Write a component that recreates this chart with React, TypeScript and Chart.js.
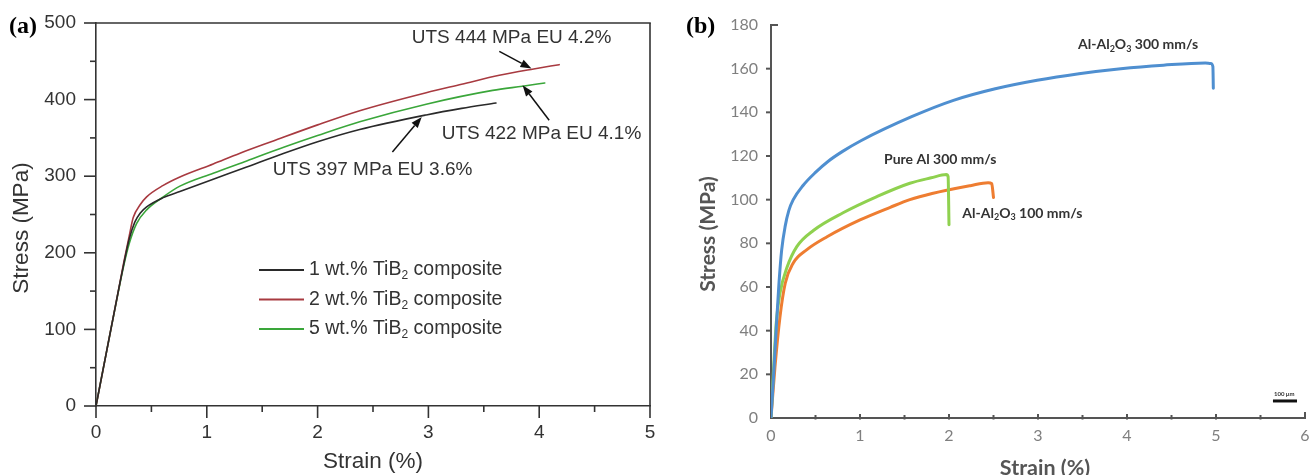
import React, { useEffect, useRef } from 'react';
import { Chart, registerables } from 'chart.js';

Chart.register(...registerables);

// ---------------- Panel (a) data ----------------
const strainA1 = [0, 0.1, 0.2, 0.25, 0.3, 0.35, 0.4, 0.457, 0.607, 0.757, 1.058, 1.36, 1.66, 2.0, 2.38, 2.98, 3.3, 3.61];
const stressA1 = [0, 74.5, 149, 185, 218, 240, 252, 260, 272, 280, 296, 312, 328, 345, 361, 380, 388.5, 395.5];
const strainA2 = [0, 0.1, 0.2, 0.25, 0.3, 0.336, 0.4, 0.457, 0.607, 0.757, 1.058, 1.3, 1.6, 2.0, 2.38, 2.98, 3.3, 3.64, 3.95, 4.18];
const stressA2 = [0, 74.5, 149, 187, 222, 246, 263, 273, 288, 299, 316, 330, 346, 367, 385.5, 409, 420, 431.7, 440, 445.6];
const strainA5 = [0, 0.1, 0.2, 0.25, 0.3, 0.366, 0.457, 0.607, 0.757, 1.058, 1.36, 1.7, 2.0, 2.38, 2.98, 3.58, 3.85, 4.05];
const stressA5 = [0, 74.5, 148, 183, 212, 238, 256, 273, 287, 304, 320, 338, 353, 371, 394, 412, 417.5, 421.7];
const seriesLabelsA = ['1 wt.% TiB₂ composite', '2 wt.% TiB₂ composite', '5 wt.% TiB₂ composite'];
const xTicksA = [0, 1, 2, 3, 4, 5];
const yTicksA = [0, 100, 200, 300, 400, 500];
const annotTextA = ['UTS 444 MPa EU 4.2%', 'UTS 422 MPa EU 4.1%', 'UTS 397 MPa EU 3.6%'];
const annotAnchorA = [[2.85, 481], [3.12, 356], [1.596, 309]];
const arrowTailA = [[3.64, 463], [4.09, 373], [2.675, 331.6]];
const arrowTipA = [[3.93, 440.5], [3.85, 418.7], [2.94, 377.3]];

// ---------------- Panel (b) data ----------------
const strainB300 = [0, 0.03, 0.06, 0.09, 0.12, 0.16, 0.2, 0.25, 0.36, 0.5, 0.64, 0.8, 1.01, 1.58, 2.05, 2.52, 2.99, 3.46, 3.93, 4.41, 4.88, 4.94, 4.965, 4.97];
const stressB300 = [0, 20, 42, 62, 77, 88, 95, 100, 106.5, 112.5, 117.5, 122, 127, 138, 145.5, 150.8, 154.7, 157.7, 160, 161.6, 162.6, 162.4, 161, 151];
const strainBPure = [0, 0.03, 0.06, 0.1, 0.18, 0.29, 0.48, 0.81, 1.19, 1.56, 1.8, 1.97, 1.99, 2.0];
const stressBPure = [0, 23.5, 44, 57, 69, 78.5, 86, 94, 101.4, 107.5, 110, 111.5, 110.5, 88.5];
const strainB100 = [0, 0.045, 0.1, 0.16, 0.25, 0.4, 0.63, 1.0, 1.34, 1.56, 1.81, 2.24, 2.44, 2.48, 2.5];
const stressB100 = [0, 23.5, 46, 61.7, 71, 77, 83, 90.7, 96.5, 100, 102.8, 106.4, 107.8, 107.3, 101];
const seriesLabelsB = ['Al-Al₂O₃ 300 mm/s', 'Pure Al 300 mm/s', 'Al-Al₂O₃ 100 mm/s'];
const labelAnchorB = [[3.45, 171], [1.27, 118.5], [2.15, 93.8]];
const xTicksB = [0, 1, 2, 3, 4, 5, 6];
const yTicksB = [0, 20, 40, 60, 80, 100, 120, 140, 160, 180];
const scaleBarText = '100 μm';
const scaleBarRange = [5.64, 5.91, 7.8];

// ---------------- helpers ----------------
const FONT_A = '"Liberation Sans", Arial, sans-serif';
const FONT_B = 'Lato, "Open Sans", sans-serif';
const FONT_SERIF = '"Liberation Serif", "Times New Roman", serif';
const SUBS = '₀₁₂₃₄₅₆₇₈₉';

const pts = (xs: number[], ys: number[]) => xs.map((x, i) => ({ x, y: ys[i] }));

function drawRich(ctx: any, text: string, x: number, y: number, size: number, family: string, weight: string, color: string) {
  ctx.save();
  ctx.fillStyle = color;
  ctx.textBaseline = 'middle';
  ctx.textAlign = 'left';
  let cx = x;
  let buf = '';
  const flush = () => {
    if (!buf) return;
    ctx.font = `${weight} ${size}px ${family}`;
    ctx.fillText(buf, cx, y);
    cx += ctx.measureText(buf).width;
    buf = '';
  };
  for (const ch of text) {
    const i = SUBS.indexOf(ch);
    if (i >= 0) {
      flush();
      ctx.font = `${weight} ${Math.round(size * 0.62)}px ${family}`;
      ctx.fillText(String(i), cx, y + size * 0.3);
      cx += ctx.measureText(String(i)).width;
    } else buf += ch;
  }
  flush();
  ctx.restore();
}

function seg(ctx: any, x1: number, y1: number, x2: number, y2: number, color: string, w: number) {
  ctx.save();
  ctx.strokeStyle = color;
  ctx.lineWidth = w;
  ctx.beginPath();
  ctx.moveTo(x1, y1);
  ctx.lineTo(x2, y2);
  ctx.stroke();
  ctx.restore();
}

function arrow(ctx: any, x1: number, y1: number, x2: number, y2: number, color: string) {
  const a = Math.atan2(y2 - y1, x2 - x1);
  const L = 11, W = 4;
  const bx = x2 - L * Math.cos(a), by = y2 - L * Math.sin(a);
  seg(ctx, x1, y1, bx, by, color, 1.5);
  ctx.save();
  ctx.fillStyle = color;
  ctx.beginPath();
  ctx.moveTo(x2, y2);
  ctx.lineTo(bx + W * Math.sin(a), by - W * Math.cos(a));
  ctx.lineTo(bx - W * Math.sin(a), by + W * Math.cos(a));
  ctx.closePath();
  ctx.fill();
  ctx.restore();
}

function textAt(ctx: any, text: string, x: number, y: number, font: string, color: string, align: string, rot = 0) {
  ctx.save();
  ctx.translate(x, y);
  if (rot) ctx.rotate(rot);
  ctx.font = font;
  ctx.fillStyle = color;
  ctx.textAlign = align;
  ctx.textBaseline = 'middle';
  ctx.fillText(text, 0, 0);
  ctx.restore();
}

// ---------------- plugins ----------------
const decorA = {
  id: 'decorA',
  afterDraw(chart: any) {
    const { ctx, chartArea: ca, scales } = chart;
    const xs = scales.x, ys = scales.y;
    const ink = '#333333';
    seg(ctx, ca.left - 1, ca.top, ca.right + 0.8, ca.top, ink, 1.6);
    seg(ctx, ca.right, ca.top, ca.right, ca.bottom, ink, 1.6);
    for (let v = 0; v <= 5.0001; v += 0.5) {
      const px = xs.getPixelForValue(v);
      const major = Math.abs(v - Math.round(v)) < 1e-6;
      seg(ctx, px, ca.bottom, px, ca.bottom + (major ? 12 : 6), ink, 1.6);
    }
    for (let v = 0; v <= 500; v += 50) {
      const py = ys.getPixelForValue(v);
      const major = v % 100 === 0;
      seg(ctx, ca.left, py, ca.left - (major ? 12 : 6), py, ink, 1.6);
    }
    textAt(ctx, 'Stress (MPa)', 22, 228, `22.5px ${FONT_A}`, ink, 'center', -Math.PI / 2);
    textAt(ctx, 'Strain (%)', (ca.left + ca.right) / 2, 462, `22.5px ${FONT_A}`, ink, 'center');
    textAt(ctx, '(a)', 9, 27, `bold 24px ${FONT_SERIF}`, '#000', 'left');
    chart.data.datasets.forEach((ds: any, i: number) => {
      const y = 270 + i * 29.5;
      seg(ctx, 259, y, 304, y, ds.borderColor, 1.8);
      drawRich(ctx, ds.label, 309, y, 19.5, FONT_A, 'normal', ink);
    });
    annotTextA.forEach((t, i) => {
      const [ax, ay] = annotAnchorA[i];
      textAt(ctx, t, xs.getPixelForValue(ax), ys.getPixelForValue(ay), `19px ${FONT_A}`, ink, 'left');
      const [tx, ty] = arrowTailA[i];
      const [hx, hy] = arrowTipA[i];
      arrow(ctx, xs.getPixelForValue(tx), ys.getPixelForValue(ty), xs.getPixelForValue(hx), ys.getPixelForValue(hy), '#111');
    });
  },
};

const decorB = {
  id: 'decorB',
  afterDraw(chart: any) {
    const { ctx, chartArea: ca, scales } = chart;
    const xs = scales.x, ys = scales.y;
    const ink = '#555555';
    yTicksB.forEach((v) => {
      const py = ys.getPixelForValue(v);
      if (v === 0) return;
      if (v === 180) seg(ctx, ca.left, py, ca.left + 7, py, ink, 2);
      else seg(ctx, ca.left, py, ca.left - 5, py, ink, 2);
    });
    for (let v = 0.5; v <= 6.0001; v += 0.5) {
      const px = xs.getPixelForValue(v);
      if (v > 5.99) seg(ctx, px, ca.bottom, px, ca.bottom - 6, ink, 2);
      else {
        const major = Math.abs(v - Math.round(v)) < 1e-6;
        seg(ctx, px, ca.bottom + 1.5, px, ca.bottom - (major ? 4 : 3), ink, 2);
      }
    }
    textAt(ctx, 'Stress (MPa)', 48, 234, `bold 21px ${FONT_B}`, ink, 'center', -Math.PI / 2);
    textAt(ctx, 'Strain (%)', 385, 468, `bold 21.5px ${FONT_B}`, ink, 'center');
    textAt(ctx, '(b)', 26, 27, `bold 24px ${FONT_SERIF}`, '#000', 'left');
    seriesLabelsB.forEach((t, i) => {
      const [ax, ay] = labelAnchorB[i];
      drawRich(ctx, t, xs.getPixelForValue(ax), ys.getPixelForValue(ay), 14, FONT_B, 'bold', '#333');
    });
    const bx1 = xs.getPixelForValue(scaleBarRange[0]);
    const bx2 = xs.getPixelForValue(scaleBarRange[1]);
    const by = ys.getPixelForValue(scaleBarRange[2]);
    seg(ctx, bx1, by, bx2, by, '#111', 3);
    textAt(ctx, scaleBarText, bx1 + 1, by - 7, `bold 6px ${FONT_B}`, '#333', 'left');
  },
};

export default function App() {
  const refA = useRef<HTMLCanvasElement>(null);
  const refB = useRef<HTMLCanvasElement>(null);

  useEffect(() => {
    const lineDs = (label: string, data: any, color: string, w: number) => ({
      label,
      data,
      borderColor: color,
      backgroundColor: color,
      borderWidth: w,
      pointRadius: 0,
      cubicInterpolationMode: 'monotone',
      borderCapStyle: 'round',
      borderJoinStyle: 'round',
      fill: false,
    });

    const chartA = new Chart(refA.current as any, {
      type: 'line',
      data: {
        datasets: [
          lineDs(seriesLabelsA[0], pts(strainA1, stressA1), '#2a2a2a', 1.6),
          lineDs(seriesLabelsA[1], pts(strainA2, stressA2), '#a83a40', 1.6),
          lineDs(seriesLabelsA[2], pts(strainA5, stressA5), '#3aa63a', 1.6),
        ],
      },
      options: {
        animation: false,
        responsive: false,
        layout: { padding: { top: 23, right: 10, left: 0, bottom: 0 } },
        plugins: { legend: { display: false }, tooltip: { enabled: false } },
        scales: {
          x: {
            type: 'linear',
            min: 0,
            max: 5,
            afterBuildTicks: (s: any) => { s.ticks = xTicksA.map((v) => ({ value: v })); },
            afterFit: (s: any) => { s.height = 69; },
            grid: { display: true, drawOnChartArea: false, drawTicks: true, tickLength: 12, color: 'rgba(0,0,0,0)' },
            border: { display: true, color: '#333333', width: 1.6 },
            ticks: { font: { family: FONT_A, size: 19 }, color: '#333333', padding: 3, maxRotation: 0, autoSkip: false },
          },
          y: {
            type: 'linear',
            min: 0,
            max: 500,
            afterBuildTicks: (s: any) => { s.ticks = yTicksA.map((v) => ({ value: v })); },
            afterFit: (s: any) => { s.width = 96; },
            grid: { display: true, drawOnChartArea: false, drawTicks: true, tickLength: 12, color: 'rgba(0,0,0,0)' },
            border: { display: true, color: '#333333', width: 1.6 },
            ticks: { font: { family: FONT_A, size: 19 }, color: '#333333', padding: 8, autoSkip: false },
          },
        },
      } as any,
      plugins: [decorA],
    });

    const chartB = new Chart(refB.current as any, {
      type: 'line',
      data: {
        datasets: [
          lineDs(seriesLabelsB[0], pts(strainB300, stressB300), '#4f8fd0', 3),
          lineDs(seriesLabelsB[1], pts(strainBPure, stressBPure), '#8fd14f', 3),
          lineDs(seriesLabelsB[2], pts(strainB100, stressB100), '#ee7d31', 3),
        ],
      },
      options: {
        animation: false,
        responsive: false,
        layout: { padding: { top: 25, right: 11, left: 0, bottom: 0 } },
        plugins: { legend: { display: false }, tooltip: { enabled: false } },
        scales: {
          x: {
            type: 'linear',
            min: 0,
            max: 6,
            afterBuildTicks: (s: any) => { s.ticks = xTicksB.map((v) => ({ value: v })); },
            afterFit: (s: any) => { s.height = 57; },
            grid: { display: true, drawOnChartArea: false, drawTicks: true, tickLength: 4, color: 'rgba(0,0,0,0)' },
            border: { display: true, color: '#555555', width: 2 },
            ticks: { font: { family: FONT_B, size: 16 }, color: '#7f7f7f', padding: 4, maxRotation: 0, autoSkip: false },
          },
          y: {
            type: 'linear',
            min: 0,
            max: 180,
            afterBuildTicks: (s: any) => { s.ticks = yTicksB.map((v) => ({ value: v })); },
            afterFit: (s: any) => { s.width = 111; },
            grid: { display: true, drawOnChartArea: false, drawTicks: true, tickLength: 4, color: 'rgba(0,0,0,0)' },
            border: { display: true, color: '#555555', width: 2 },
            ticks: { font: { family: FONT_B, size: 16 }, color: '#7f7f7f', padding: 9, autoSkip: false },
          },
        },
      } as any,
      plugins: [decorB],
    });

    return () => {
      chartA.destroy();
      chartB.destroy();
    };
  }, []);

  return (
    <div style={{ position: 'fixed', left: 0, top: 0, width: 1316, height: 475, display: 'flex', background: '#ffffff' }}>
      <canvas ref={refA} width={660} height={475} style={{ display: 'block', width: 660, height: 475 }} />
      <canvas ref={refB} width={656} height={475} style={{ display: 'block', width: 656, height: 475 }} />
    </div>
  );
}
